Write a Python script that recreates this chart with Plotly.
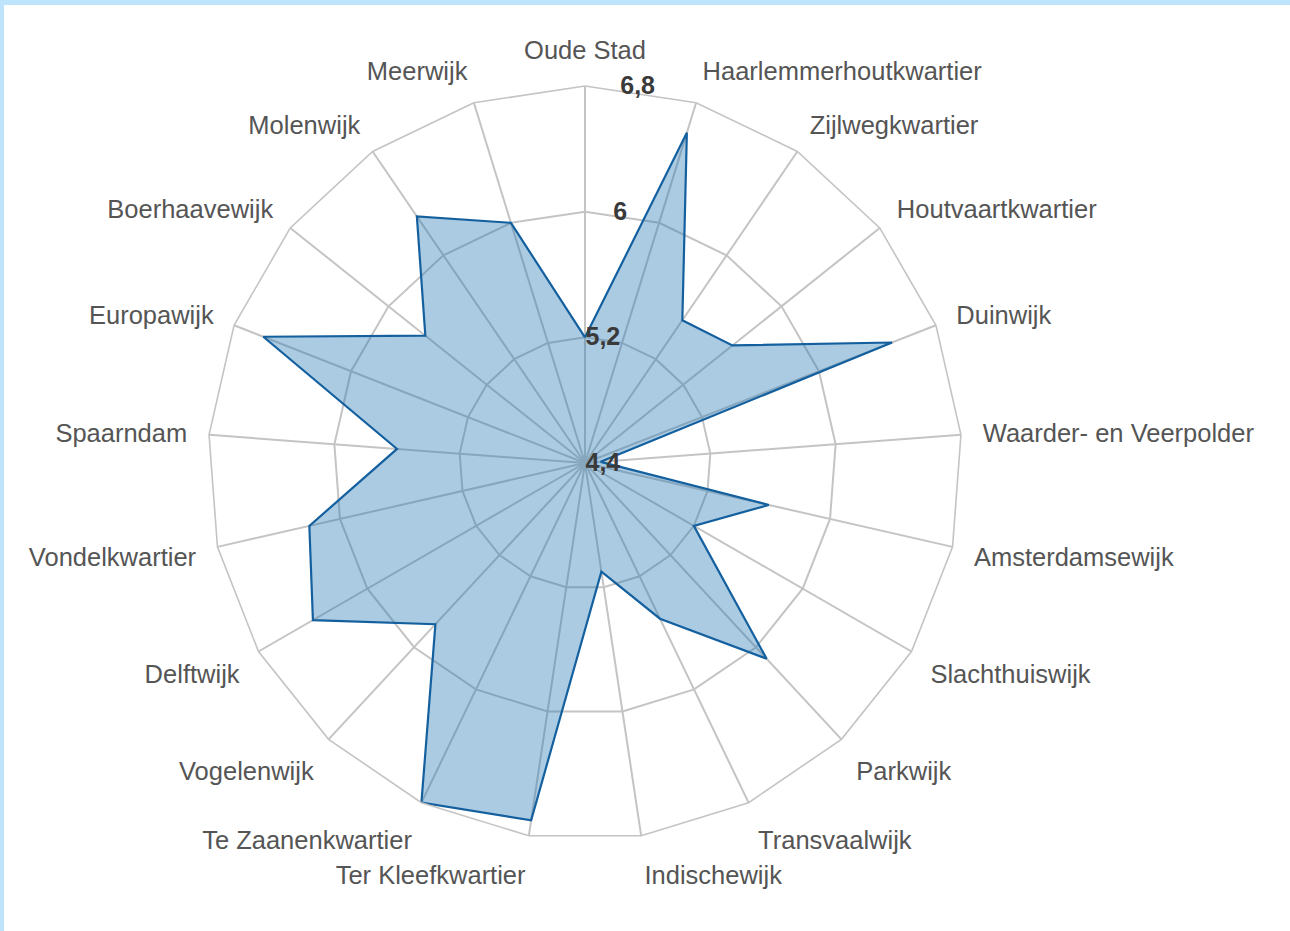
import plotly.graph_objects as go

# wijken, met de klok mee vanaf boven
wijken = [
    "Oude Stad", "Haarlemmerhoutkwartier", "Zijlwegkwartier", "Houtvaartkwartier",
    "Duinwijk", "Waarder- en Veerpolder", "Amsterdamsewijk", "Slachthuiswijk",
    "Parkwijk", "Transvaalwijk", "Indischewijk", "Ter Kleefkwartier",
    "Te Zaanenkwartier", "Vogelenwijk", "Delftwijk", "Vondelkwartier",
    "Spaarndam", "Europawijk", "Boerhaavewijk", "Molenwijk", "Meerwijk",
]
scores = [
    5.2, 6.6, 5.5, 5.6, 6.5, 4.5, 5.6, 5.2, 6.1, 5.5, 5.1,
    6.7, 6.8, 5.8, 6.4, 6.2, 5.6, 6.6, 5.7, 6.3, 6.0,
]
radial_ticks = [4.4, 5.2, 6.0, 6.8]
radial_labels = ["4,4", "5,2", "6", "6,8"]
label_pad = [0, 0, 4, 5]  # extra nbsp before each radial label

W, H = 1290, 931
cx, cy, R = 585, 463, 377  # centre and outer radius in pixels

fig = go.Figure()
fig.add_trace(go.Scatterpolar(
    r=scores + [scores[0]],
    theta=wijken + [wijken[0]],
    mode="lines",
    fill="toself",
    fillcolor="rgba(31,119,180,0.38)",
    line=dict(color="#14609f", width=2.2),
    hoverinfo="skip",
))

fig.update_layout(
    width=W, height=H,
    margin=dict(l=0, r=0, t=0, b=0),
    paper_bgcolor="white",
    showlegend=False,
    font=dict(family="Liberation Sans, Arial, sans-serif"),
    polar=dict(
        domain=dict(x=[(cx - R) / W, (cx + R) / W],
                    y=[(H - cy - R) / H, (H - cy + R) / H]),
        bgcolor="white",
        gridshape="linear",
        angularaxis=dict(
            direction="clockwise", rotation=90,
            tickfont=dict(size=25.5, color="#555555"),
            gridcolor="#c4c4c4", gridwidth=1.6,
            linecolor="#c4c4c4", linewidth=1.6,
            showline=True, ticks="outside", ticklen=16, tickcolor="rgba(0,0,0,0)",
        ),
        radialaxis=dict(
            range=[4.4, 6.8], tickvals=radial_ticks,
            ticktext=["&nbsp;" * p + f"<b>{t}</b>" for t, p in zip(radial_labels, label_pad)],
            angle=90, tickangle=90, side="clockwise",
            tickfont=dict(size=25, color="#3a3a3a"),
            gridcolor="#c4c4c4", gridwidth=1.6,
            showline=False, ticks="",
        ),
    ),
    shapes=[
        dict(type="rect", xref="paper", yref="paper", x0=0, x1=1, y0=1 - 5 / H, y1=1,
             fillcolor="#bde4fa", line_width=0, layer="above"),
        dict(type="rect", xref="paper", yref="paper", x0=0, x1=4 / W, y0=0, y1=1,
             fillcolor="#bde4fa", line_width=0, layer="above"),
    ],
)

fig.write_html(
    "out.html",
    config={"displayModeBar": False},
    post_script="document.body.style.margin='0';document.body.style.overflow='hidden';",
)
